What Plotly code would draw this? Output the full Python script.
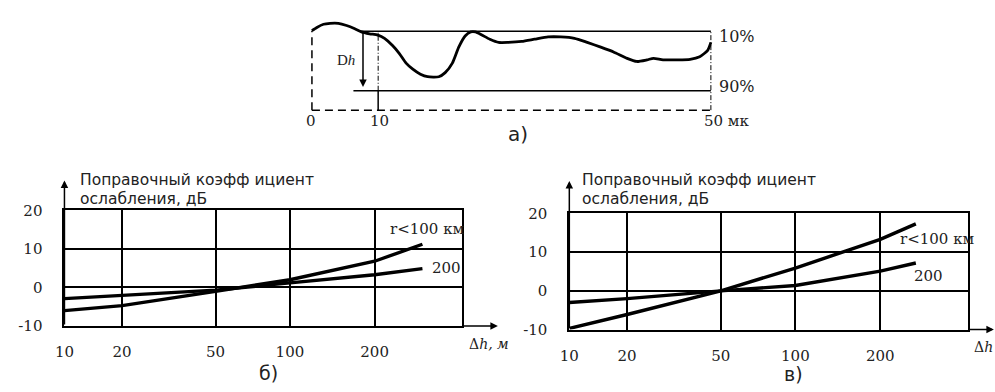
import numpy as np
import plotly.graph_objects as go

# ---------------- data ----------------
# panel a) : surface profile (x in mk, relative height)
PROFILE_X = [0, 0.62, 1.45, 2.27, 3.31, 4.34, 5.37, 6.2, 7.23, 8.27, 9.1, 10.1, 10.96, 11.8,
             12.6, 13.6, 14.5, 15.9, 16.7, 17.6, 18.4, 19.2, 19.9, 20.5, 21.3, 22.3, 23.4,
             24.6, 26.3, 27.9, 29.6, 31.2, 32.9, 34.5, 36.2, 37.8, 39.5, 40.7, 42.0, 42.8,
             44.0, 45.7, 47.4, 48.6, 49.6, 50]
PROFILE_H = [83.3, 86.7, 90, 91, 91, 88.7, 85.3, 82, 80, 78.7, 75.3, 67.7, 59.3, 49.3,
             43.3, 37.7, 35, 35, 39.3, 49.3, 66, 77.7, 82, 82, 78.7, 74.3, 71,
             71, 72, 74.3, 76.7, 76.7, 75.3, 71, 66, 61, 54.3, 51, 52.7, 54.3,
             52.7, 52.7, 53.3, 56, 62.7, 71]
LEVEL_10 = 82.7
LEVEL_90 = 20.3
LEVEL_10_START = 5.96
LEVEL_90_START = 5.2
MARK_X = 8.3          # drawn position of the "10" marker
ARROW_X = 6.4
ARROW_BOTTOM = 24.3
A_TICK_LABELS = ["0", "10", "50 мк"]

# panels б) and в) : correction coefficient vs Δh
AXIS_TICKS = [10, 20, 50, 100, 200, 500]
AXIS_TICK_TEXT = ["10", "20", "50", "100", "200"]
AXIS_POS = [0.0, 0.145, 0.38, 0.567, 0.78, 1.0]   # drawn (non-uniform) grid spacing
Y_TICKS = [-10, 0, 10, 20]
Y_TICK_TEXT = ["-10", "0", "10", "20"]

DH_B = [10, 20, 50, 100, 200, 330]
B_R100 = [-6.0, -4.7, -1.0, 2.0, 6.8, 11.2]
B_R200 = [-2.9, -2.0, -0.7, 1.2, 3.3, 4.9]

DH_V = [10, 20, 50, 100, 200, 290]
V_R100 = [-9.7, -6.1, 0.0, 5.9, 13.3, 17.3]
V_R200 = [-3.0, -2.0, 0.0, 1.4, 5.1, 7.2]


def warp(v):
    return np.interp(np.log10(v), np.log10(AXIS_TICKS), AXIS_POS)


W, H = 995, 392


def X(px):
    return px / W


def Y(py):
    return 1 - py / H


SERIF = "DejaVu Serif"
SANS = "DejaVu Sans"
TXT = "#222222"

fig = go.Figure()

# ---- panel a ----
fig.add_trace(go.Scatter(x=PROFILE_X, y=PROFILE_H, mode="lines",
                         line=dict(color="black", width=2.8, shape="spline", smoothing=0.6),
                         xaxis="x", yaxis="y", showlegend=False, hoverinfo="skip"))

# ---- panel б ----
for ys in (B_R100, B_R200):
    fig.add_trace(go.Scatter(x=warp(DH_B), y=ys, mode="lines",
                             line=dict(color="black", width=3.4),
                             xaxis="x2", yaxis="y2", showlegend=False, hoverinfo="skip"))
# ---- panel в ----
for ys in (V_R100, V_R200):
    fig.add_trace(go.Scatter(x=warp(DH_V), y=ys, mode="lines",
                             line=dict(color="black", width=3.4),
                             xaxis="x3", yaxis="y3", showlegend=False, hoverinfo="skip"))

shapes = []
# panel a frame
shapes.append(dict(type="line", xref="x", yref="y", x0=LEVEL_10_START, x1=50, y0=LEVEL_10, y1=LEVEL_10,
                   line=dict(color="black", width=1.5)))
shapes.append(dict(type="line", xref="x", yref="y", x0=LEVEL_90_START, x1=50, y0=LEVEL_90, y1=LEVEL_90,
                   line=dict(color="black", width=1.5)))
shapes.append(dict(type="line", xref="x", yref="y", x0=0, x1=50, y0=0, y1=0,
                   line=dict(color="black", width=1.5, dash="8px,5px")))
shapes.append(dict(type="line", xref="x", yref="y", x0=0, x1=0, y0=0, y1=PROFILE_H[0],
                   line=dict(color="black", width=1.5, dash="8px,5px")))
shapes.append(dict(type="line", xref="x", yref="y", x0=50, x1=50, y0=0, y1=LEVEL_10,
                   line=dict(color="black", width=1, dash="5px,2px,1px,2px")))
shapes.append(dict(type="line", xref="x", yref="y", x0=MARK_X, x1=MARK_X, y0=0, y1=LEVEL_90,
                   line=dict(color="black", width=1.5)))
shapes.append(dict(type="line", xref="x", yref="y", x0=MARK_X, x1=MARK_X, y0=LEVEL_90, y1=LEVEL_10,
                   line=dict(color="black", width=1, dash="5px,2px,1px,2px")))

axis_common = dict(showgrid=True, gridcolor="black", gridwidth=2, showline=True,
                   linecolor="black", linewidth=2, mirror=True, zeroline=False,
                   ticks="outside", tickcolor="rgba(0,0,0,0)",
                   tickfont=dict(family=SERIF, size=15, color=TXT), fixedrange=True)

annotations = []


def arrow(x, y, ax, ay, xr, yr, width=1.5):
    annotations.append(dict(x=x, y=y, ax=ax, ay=ay, xref=xr, yref=yr, axref=xr, ayref=yr,
                            showarrow=True, arrowhead=2, arrowsize=1, arrowwidth=width,
                            arrowcolor="black", text=""))


def label(text, px, py, size, family, xanchor="center", yanchor="middle"):
    annotations.append(dict(text=text, x=X(px), y=Y(py), xref="paper", yref="paper",
                            showarrow=False, xanchor=xanchor, yanchor=yanchor,
                            font=dict(family=family, size=size, color=TXT)))


# arrows
arrow(ARROW_X, ARROW_BOTTOM, ARROW_X, LEVEL_10, "x", "y")
arrow(0, 27.7, 0, -10, "x2", "y2")
arrow(1.09, -10, 1.0, -10, "x2", "y2")
arrow(0, 28.4, 0, -10, "x3", "y3")
arrow(1.065, -10, 1.0, -10, "x3", "y3")

# panel a labels
label(A_TICK_LABELS[0], 304, 117, 15, SERIF)
label(A_TICK_LABELS[1], 373, 117, 15, SERIF)
label(A_TICK_LABELS[2], 699, 117, 15, SERIF, xanchor="left")
label("10%", 714, 29, 16, SERIF, xanchor="left")
label("90%", 714, 81, 16, SERIF, xanchor="left")
label("D<i>h</i>", 339, 53, 15, "Liberation Serif")
label("а)", 513, 131, 20, SANS)

# panel б labels
label("Поправочный коэфф ициент", 69, 179, 15.5, SANS, xanchor="left")
label("ослабления, дБ", 69, 199, 15.5, SANS, xanchor="left")
label("r&lt;100 км", 382, 231, 15, SERIF, xanchor="left")
label("200", 441, 271, 15, SERIF)
label("Δ<i>h, м</i>", 484, 351, 14, SERIF)
label("б)", 261, 382, 19, SANS)

# panel в labels
label("Поправочный коэфф ициент", 576, 179, 15.5, SANS, xanchor="left")
label("ослабления, дБ", 576, 199, 15.5, SANS, xanchor="left")
label("r&lt;100 км", 897, 241, 15, SERIF, xanchor="left")
label("200", 928, 280, 15, SERIF)
label("Δ<i>h</i>", 983, 354, 14, SERIF)
label("в)", 791, 383, 19, SANS)

A_PX = 8.06
fig.update_layout(
    width=W, height=H, margin=dict(l=0, r=0, t=0, b=0),
    paper_bgcolor="white", plot_bgcolor="rgba(0,0,0,0)",
    showlegend=False,
    xaxis=dict(domain=[X(305 - 2 * A_PX), X(708 + 2 * A_PX)], range=[-2, 52], visible=False,
               anchor="y", fixedrange=True),
    yaxis=dict(domain=[Y(111), Y(6)], range=[-5, 100], visible=False, anchor="x", fixedrange=True),
    xaxis2=dict(domain=[X(55), X(456.7)], range=[0, 1], tickvals=AXIS_POS[:5],
                ticktext=AXIS_TICK_TEXT, ticklen=11, anchor="y2", **axis_common),
    yaxis2=dict(domain=[Y(332.3), Y(211)], range=[-10, 20], tickvals=Y_TICKS,
                ticktext=Y_TICK_TEXT, ticklen=17, anchor="x2", **axis_common),
    xaxis3=dict(domain=[X(565), X(967.7)], range=[0, 1], tickvals=AXIS_POS[:5],
                ticktext=AXIS_TICK_TEXT, ticklen=11, anchor="y3", **axis_common),
    yaxis3=dict(domain=[Y(336), Y(214.3)], range=[-10, 20], tickvals=Y_TICKS,
                ticktext=Y_TICK_TEXT, ticklen=17, anchor="x3", **axis_common),
    shapes=shapes,
    annotations=annotations,
)

fig.write_html("out.html")
